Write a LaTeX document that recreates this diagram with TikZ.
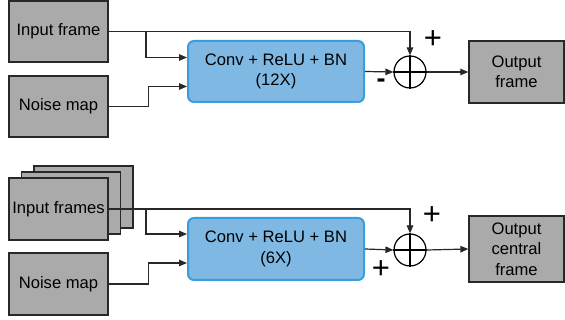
\documentclass[tikz,border=0pt]{standalone}
\usepackage{fontspec}
\setmainfont{Liberation Sans}
\usepackage{tikz}
\usetikzlibrary{arrows.meta, positioning}
\definecolor{gbox}{RGB}{170,170,170}
\definecolor{bfill}{RGB}{127,185,227}
\definecolor{bdraw}{RGB}{58,158,220}
\definecolor{lnc}{RGB}{40,40,40}
\tikzset{
  % caixa cinza de entrada/saida
  frm/.style={rectangle, draw=lnc, line width=1.3pt, fill=gbox, minimum width=99pt,
              minimum height=61pt, align=center, inner sep=0pt},
  % bloco convolucional
  blk/.style={rectangle, rounded corners=6pt, draw=bdraw, line width=2pt, fill=bfill,
              minimum width=176pt, minimum height=61pt, align=center},
  sm/.style={circle, draw=black, line width=1.2pt, minimum size=32pt, inner sep=0pt},
  ar/.style={-{Triangle[length=8pt,width=6.5pt]}, line width=1.2pt, draw=lnc},
  sg/.style={font=\fontsize{31}{31}\selectfont},
  sgm/.style={font=\fontsize{27}{27}\selectfont\bfseries}
}
\begin{document}
\begin{tikzpicture}[x=1pt,y=-1pt, every node/.style={font=\fontsize{16.6}{20.5}\selectfont}]
    \useasboundingbox (0,0) rectangle (565,320);

    % ramo superior: um frame
    \node[frm] (inf) at (58.5,31.5) {Input frame};
    \node[frm] (nm) at (58.5,106.5) {Noise map};
    \node[blk] (cb) at (276,71.5) {Conv + ReLU + BN\\(12X)};
    \node[sm] (sm) at (410,72) {};
    \draw[line width=1.2pt] (sm.north) -- (sm.south) (sm.west) -- (sm.east);
    \node[frm, minimum width=95pt, minimum height=62pt] (out) at (516.5,72) {Output\\frame};
    \coordinate (br) at (146,31.5);
    \draw[ar] (inf.east) -| (sm.north);
    \draw[ar] (br) |- ([yshift=14pt]cb.west);
    \draw[ar] (nm.east) -- ++(40,0) |- ([yshift=-15pt]cb.west);
    \draw[ar] (cb.east) -- (sm.west);
    \draw[ar] (sm.east) -- (out.west);
    \node[sg] (p1) at (433,40) {+};
    \node[sgm] (m1) at (381,83) {-};

    % ramo inferior: varios frames
    \node[frm, minimum height=62pt] (bk2) at (83.5,197) {};
    \node[frm, minimum height=62pt] (bk1) at (71,203) {};
    \node[frm, minimum height=62pt] (ins) at (58.5,209) {Input frames};
    \node[frm, minimum height=62pt] (nm2) at (58.5,284) {Noise map};
    \node[blk, minimum height=62pt] (cb2) at (276,249) {Conv + ReLU + BN\\(6X)};
    \node[sm] (sm2) at (410,250) {};
    \draw[line width=1.2pt] (sm2.north) -- (sm2.south) (sm2.west) -- (sm2.east);
    \node[frm, minimum width=95pt, minimum height=66pt] (out2) at (516.5,249) {Output\\central\\frame};
    \coordinate (br2) at (146,209);
    \draw[ar] (ins.east) -| (sm2.north);
    \draw[ar] (br2) |- ([yshift=15pt]cb2.west);
    \draw[ar] (nm2.east) -- ++(40,0) |- ([yshift=-14pt]cb2.west);
    \draw[ar] (cb2.east) -- (sm2.west);
    \draw[ar] (sm2.east) -- (out2.west);
    \node[sg] (p2) at (432,216) {+};
    \node[sg] (p3) at (381,270) {+};
  \end{tikzpicture}
\end{document}
